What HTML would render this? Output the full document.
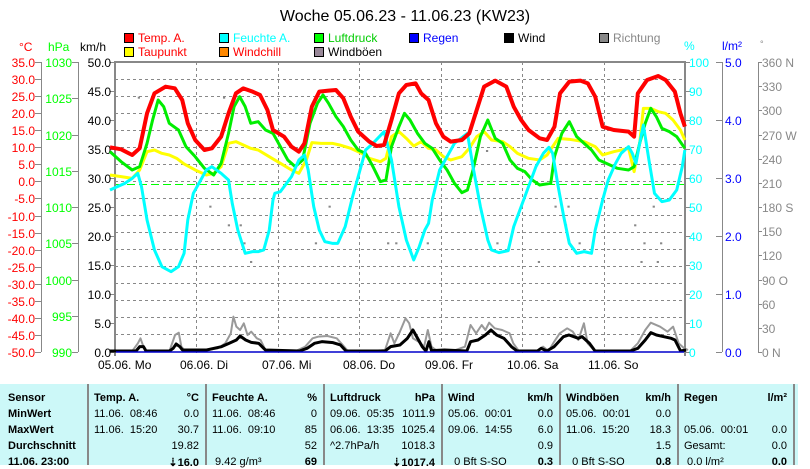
<!DOCTYPE html>
<html><head><meta charset="utf-8"><style>
body{margin:0;width:810px;height:465px;background:#fff;overflow:hidden;font-family:"Liberation Sans",sans-serif}
svg{position:absolute;left:0;top:0}
#tbl{position:absolute;left:0;top:384px;width:798px;height:81px;background:#ccf8f8;font-size:11px;color:#000}
.c{position:absolute;top:0;height:81px}
.r{position:absolute;left:0;white-space:nowrap}
.sep{position:absolute;top:0;width:2px;height:81px;background:#888}
b{font-weight:bold}
</style></head><body>
<svg width="810" height="465" font-family="Liberation Sans, sans-serif">
<text x="405" y="21" font-size="16" text-anchor="middle">Woche 05.06.23 - 11.06.23 (KW23)</text>
<g font-size="12">
<rect x="124.5" y="33.5" width="9" height="9" fill="#f00" stroke="#000"/><text x="138" y="42" fill="#f00">Temp. A.</text>
<rect x="124.5" y="47.5" width="9" height="9" fill="#ff0" stroke="#000"/><text x="138" y="56" fill="#f00">Taupunkt</text>
<rect x="219.5" y="33.5" width="9" height="9" fill="#0ff" stroke="#000"/><text x="233" y="42" fill="#0ff">Feuchte A.</text>
<rect x="219.5" y="47.5" width="9" height="9" fill="#f80" stroke="#000"/><text x="233" y="56" fill="#f00">Windchill</text>
<rect x="314.5" y="33.5" width="9" height="9" fill="#0f0" stroke="#000"/><text x="328" y="42" fill="#0c0">Luftdruck</text>
<rect x="314.5" y="47.5" width="9" height="9" fill="#989" stroke="#000"/><text x="328" y="56">Windböen</text>
<rect x="409.5" y="33.5" width="9" height="9" fill="#00f" stroke="#000"/><text x="423" y="42" fill="#00f">Regen</text>
<rect x="504.5" y="33.5" width="9" height="9" fill="#000" stroke="#000"/><text x="518" y="42">Wind</text>
<rect x="599.5" y="33.5" width="9" height="9" fill="#888" stroke="#000"/><text x="613" y="42" fill="#888">Richtung</text>
</g>
<g font-size="12">
<text x="19" y="51" fill="#f00">°C</text><text x="48" y="51" fill="#0f0">hPa</text><text x="80" y="51">km/h</text>
<text x="684" y="50" fill="#0ff">%</text><text x="722" y="50" fill="#00f">l/m²</text><text x="760" y="47" fill="#888" font-size="9">°</text>
</g>
<g stroke="#888" stroke-dasharray="3,3" stroke-width="1">
<line x1="115" x2="684" y1="79.5" y2="79.5"/><line x1="115" x2="684" y1="96.5" y2="96.5"/><line x1="115" x2="684" y1="113.5" y2="113.5"/><line x1="115" x2="684" y1="130.5" y2="130.5"/><line x1="115" x2="684" y1="147.5" y2="147.5"/><line x1="115" x2="684" y1="164.5" y2="164.5"/><line x1="115" x2="684" y1="181.5" y2="181.5"/><line x1="115" x2="684" y1="198.5" y2="198.5"/><line x1="115" x2="684" y1="215.5" y2="215.5"/><line x1="115" x2="684" y1="232.5" y2="232.5"/><line x1="115" x2="684" y1="249.5" y2="249.5"/><line x1="115" x2="684" y1="266.5" y2="266.5"/><line x1="115" x2="684" y1="283.5" y2="283.5"/><line x1="115" x2="684" y1="300.5" y2="300.5"/><line x1="115" x2="684" y1="317.5" y2="317.5"/><line x1="115" x2="684" y1="334.5" y2="334.5"/>
<line x1="196.5" x2="196.5" y1="62" y2="356"/><line x1="278.5" x2="278.5" y1="62" y2="356"/><line x1="359.5" x2="359.5" y1="62" y2="356"/><line x1="441.5" x2="441.5" y1="62" y2="356"/><line x1="522.5" x2="522.5" y1="62" y2="356"/><line x1="604.5" x2="604.5" y1="62" y2="356"/>
</g>
<line x1="115" x2="684" y1="184.5" y2="184.5" stroke="#0f0" stroke-dasharray="8,4"/>
<g stroke="#888" stroke-width="2" fill="none"><polyline points="115,356 115,62 685,62 685,356"/></g>
<g stroke="#888" stroke-width="1">
<line x1="41.5" y1="62" x2="41.5" y2="352"/><line x1="78.5" y1="62" x2="78.5" y2="352"/>
<line x1="722.5" y1="62" x2="722.5" y2="352"/><line x1="758.5" y1="62" x2="758.5" y2="352"/>
</g>
<g id="ticks" stroke="#888"></g>
<g id="labels" font-size="12"></g>
<g transform="translate(110,60) scale(0.3704,0.3333)" fill="none" stroke-linejoin="round">
<g fill="#888"><rect x="75" y="110" width="6" height="6"/><rect x="305" y="110" width="6" height="6"/><rect x="528" y="220" width="6" height="6"/><rect x="268" y="437" width="6" height="6"/><rect x="590" y="437" width="6" height="6"/><rect x="318" y="493" width="6" height="6"/><rect x="350" y="493" width="6" height="6"/><rect x="360" y="547" width="6" height="6"/><rect x="553" y="547" width="6" height="6"/><rect x="378" y="603" width="6" height="6"/><rect x="748" y="547" width="6" height="6"/><rect x="770" y="547" width="6" height="6"/><rect x="855" y="547" width="6" height="6"/><rect x="1015" y="270" width="6" height="6"/><rect x="1200" y="437" width="6" height="6"/><rect x="1235" y="437" width="6" height="6"/><rect x="1228" y="493" width="6" height="6"/><rect x="1415" y="493" width="6" height="6"/><rect x="1440" y="547" width="6" height="6"/><rect x="1485" y="547" width="6" height="6"/><rect x="1155" y="603" width="6" height="6"/><rect x="1432" y="603" width="6" height="6"/><rect x="1476" y="603" width="6" height="6"/><rect x="1043" y="547" width="6" height="6"/><rect x="1265" y="547" width="6" height="6"/><rect x="1465" y="437" width="6" height="6"/></g>
<polyline vector-effect="non-scaling-stroke" stroke="#ff0" stroke-width="3" points="0,345 30,350 60,355 80,330 100,275 120,270 140,280 160,285 180,295 200,312 230,330 260,345 280,340 300,320 320,250 340,245 360,255 380,265 400,270 430,290 460,310 490,330 510,340 530,300 545,248 570,250 600,250 620,255 650,265 680,280 700,295 730,305 745,295 760,230 780,215 800,235 820,258 840,245 860,265 880,270 900,290 920,300 950,290 970,265 990,230 1010,215 1030,240 1060,245 1080,260 1100,280 1130,295 1160,300 1180,285 1210,235 1240,238 1280,245 1310,260 1330,285 1360,275 1400,265 1415,335 1430,250 1440,145 1460,145 1480,155 1500,160 1520,180 1540,210 1552,240"/>
<polyline vector-effect="non-scaling-stroke" stroke="#0e0" stroke-width="3" points="0,275 30,305 60,330 80,320 100,250 115,180 130,120 145,140 160,190 185,210 205,260 230,290 255,325 280,345 300,310 320,220 335,140 350,110 365,140 380,190 400,185 420,210 440,220 460,260 480,300 500,320 520,300 540,190 560,130 575,105 590,130 610,170 630,200 650,240 670,270 690,280 710,320 730,365 745,360 760,260 780,200 795,160 810,180 830,220 850,250 870,265 890,300 910,330 930,370 950,398 965,390 980,330 1000,230 1020,180 1040,235 1060,250 1080,300 1100,325 1120,335 1140,360 1160,375 1190,370 1200,290 1220,220 1240,185 1260,230 1280,250 1300,270 1320,300 1340,310 1370,325 1400,330 1415,320 1430,250 1445,190 1460,145 1475,170 1490,205 1510,215 1530,230 1552,265"/>
<polyline vector-effect="non-scaling-stroke" stroke="#0ff" stroke-width="3" points="0,390 20,380 40,370 60,355 75,340 85,380 100,480 120,570 140,620 165,635 185,620 200,580 210,480 225,400 245,360 260,330 275,320 300,340 320,360 330,430 345,510 365,580 385,575 400,575 415,570 430,510 440,420 445,400 460,395 490,350 510,300 525,285 535,330 550,440 565,510 580,545 600,550 615,550 635,500 655,410 675,330 690,270 710,250 740,215 760,300 780,440 800,540 820,600 835,560 850,510 860,490 870,420 890,330 910,290 930,250 965,220 980,320 1000,440 1020,540 1030,570 1050,578 1075,572 1090,500 1110,440 1130,380 1150,320 1170,280 1185,262 1195,280 1210,380 1225,470 1240,550 1260,580 1280,575 1300,580 1310,510 1330,420 1345,360 1365,310 1380,280 1400,260 1410,280 1420,310 1430,250 1440,195 1455,300 1470,400 1490,425 1510,420 1530,390 1545,320 1552,270"/>
<polyline vector-effect="non-scaling-stroke" stroke="#f00" stroke-width="4" points="0,262 30,268 60,285 80,265 100,160 120,100 150,80 175,85 195,120 210,190 230,240 255,270 275,265 300,230 320,160 340,100 360,85 385,95 405,105 425,150 440,210 470,230 490,260 510,275 525,250 545,140 565,95 590,92 610,90 630,115 650,170 670,215 700,245 720,258 740,255 760,180 780,100 800,75 825,70 840,100 860,120 880,190 900,230 920,245 950,240 970,220 990,150 1010,80 1040,62 1070,80 1090,140 1110,180 1130,210 1160,235 1180,240 1200,200 1215,100 1240,65 1270,62 1290,70 1310,110 1330,200 1360,210 1400,215 1415,230 1425,100 1450,60 1480,48 1500,60 1525,95 1540,160 1552,200"/>
</g>
<g transform="translate(110,280) scale(0.3717,0.3333)" fill="none" stroke-linejoin="round">
<polyline vector-effect="non-scaling-stroke" stroke="#999" stroke-width="2" points="0,213 60,213 75,190 82,175 90,200 95,213 160,213 175,165 185,158 192,200 200,210 260,210 290,205 310,190 325,160 332,110 340,140 350,150 360,130 370,165 380,155 395,175 405,180 418,210 500,213 525,200 545,175 560,170 585,168 610,175 630,200 640,213 700,213 740,210 755,160 765,190 780,155 795,115 805,130 815,175 830,185 845,200 855,150 865,200 880,213 930,210 955,200 970,135 985,160 1000,135 1010,150 1020,128 1035,145 1055,150 1075,160 1085,190 1100,213 1150,212 1165,200 1180,213 1195,185 1210,160 1230,145 1245,155 1260,180 1275,130 1285,190 1305,213 1400,212 1420,190 1440,150 1455,128 1480,140 1500,155 1515,140 1530,190 1545,205 1555,210"/>
<polyline vector-effect="non-scaling-stroke" stroke="#000" stroke-width="3" points="0,213 70,213 80,200 90,200 97,213 160,213 170,205 178,192 188,200 195,210 260,210 280,205 300,200 320,190 340,180 350,168 365,180 380,187 400,190 418,210 510,213 530,205 550,190 570,185 600,188 620,195 635,213 740,213 755,200 780,195 800,175 815,150 825,170 840,200 850,213 858,185 865,212 900,210 960,213 970,185 990,180 1010,165 1025,150 1040,165 1060,175 1080,200 1095,213 1150,213 1160,205 1175,213 1195,200 1220,170 1235,165 1260,175 1270,170 1290,190 1305,213 1400,213 1420,205 1440,180 1455,158 1470,165 1490,170 1510,175 1520,180 1535,213 1550,210"/>
</g>
<line x1="116" x2="684" y1="352" y2="352" stroke="#00c" stroke-width="1.5"/>
<g font-size="12">
<text x="98" y="369">05.06.  Mo</text><text x="180" y="369">06.06.  Di</text><text x="262" y="369">07.06.  Mi</text><text x="343" y="369">08.06.  Do</text><text x="425" y="369">09.06.  Fr</text><text x="507" y="369">10.06.  Sa</text><text x="588" y="369">11.06.  So</text>
</g>
</svg>
<div id="tbl">
<div class="sep" style="left:87px"></div><div class="sep" style="left:205px"></div><div class="sep" style="left:323px"></div><div class="sep" style="left:441px"></div><div class="sep" style="left:559px"></div><div class="sep" style="left:677px"></div><div class="sep" style="left:793px"></div>
<div class="c" style="left:8px"><div class="r" style="top:8px"><b>Sensor</b></div><div class="r" style="top:24px"><b>MinWert</b></div><div class="r" style="top:40px"><b>MaxWert</b></div><div class="r" style="top:56px"><b>Durchschnitt</b></div><div class="r" style="top:72px"><b>11.06. 23:00</b></div></div>
</div>
<script>
var L=document.getElementById('labels'),T=document.getElementById('ticks');
function txt(x,y,s,c,a){L.insertAdjacentHTML('beforeend','<text x="'+x+'" y="'+y+'" fill="'+c+'" text-anchor="'+(a||'end')+'">'+s+'</text>');}
function tk(x1,x2,y){T.insertAdjacentHTML('beforeend','<line x1="'+x1+'" x2="'+x2+'" y1="'+(y+.5)+'" y2="'+(y+.5)+'"/>');}
for(var i=0;i<=17;i++){var y=Math.round(62+i*290/17),v=35-5*i;txt(35,y+5,v.toFixed(1),'#f00');tk(35,41,y);}
for(i=0;i<=8;i++){y=Math.round(62+i*290/8);txt(72,y+5,1030-5*i,'#0f0');tk(72,78,y);}
for(i=0;i<=10;i++){y=Math.round(62+i*29);txt(111,y+5,(50-5*i).toFixed(1),'#000');tk(110,115,y);
 txt(689,y+5,100-10*i,'#0ff','start');tk(685,690,y);}
for(i=0;i<=5;i++){y=Math.round(62+i*58);txt(725,y+5,(5-i).toFixed(1),'#00f','start');tk(716,722,y);}
var dn={0:'360 N',3:'270 W',6:'180 S',9:'90  O',12:'0   N'};
for(i=0;i<=12;i++){y=Math.round(62+i*290/12);txt(762,y+5,dn[i]||(360-30*i),'#888','start');tk(758,762,y);}
var cols=[
 [88,205,'Temp. A.','°C',['11.06.  08:46','0.0'],['11.06.  15:20','30.7'],['','19.82'],['','⇣16.0',1]],
 [206,323,'Feuchte A.','%',['11.06.  08:46','0'],['11.06.  09:10','85'],['','52'],[' 9.42 g/m³','69',1]],
 [324,441,'Luftdruck','hPa',['09.06.  05:35','1011.9'],['06.06.  13:35','1025.4'],['^2.7hPa/h','1018.3'],['','⇣1017.4',1]],
 [442,559,'Wind','km/h',['05.06.  00:01','0.0'],['09.06.  14:55','6.0'],['','0.9'],['  0 Bft S-SO','0.3',1]],
 [560,677,'Windböen','km/h',['05.06.  00:01','0.0'],['11.06.  15:20','18.3'],['','1.5'],['  0 Bft S-SO','0.8',1]],
 [678,793,'Regen','l/m²',['',''],['05.06.  00:01','0.0'],['Gesamt:','0.0'],[' 0.0 l/m²','0.0',1]]];
var tb=document.getElementById('tbl'),h='';
cols.forEach(function(c){var l=c[0]+6,w=c[1]-c[0]-12;
 h+='<div class="r" style="left:'+l+'px;top:8px"><b>'+c[2]+'</b></div><div class="r" style="left:'+l+'px;width:'+w+'px;text-align:right;top:8px"><b>'+c[3]+'</b></div>';
 for(var k=0;k<4;k++){var r=c[4+k],t=24+16*k;h+='<div class="r" style="left:'+l+'px;top:'+t+'px">'+r[0].replace(/ /g,'&nbsp;')+'</div><div class="r" style="left:'+l+'px;width:'+w+'px;text-align:right;top:'+t+'px">'+(r[2]?'<b>'+r[1]+'</b>':r[1])+'</div>';}
});
tb.insertAdjacentHTML('beforeend',h);
</script>
</body></html>
